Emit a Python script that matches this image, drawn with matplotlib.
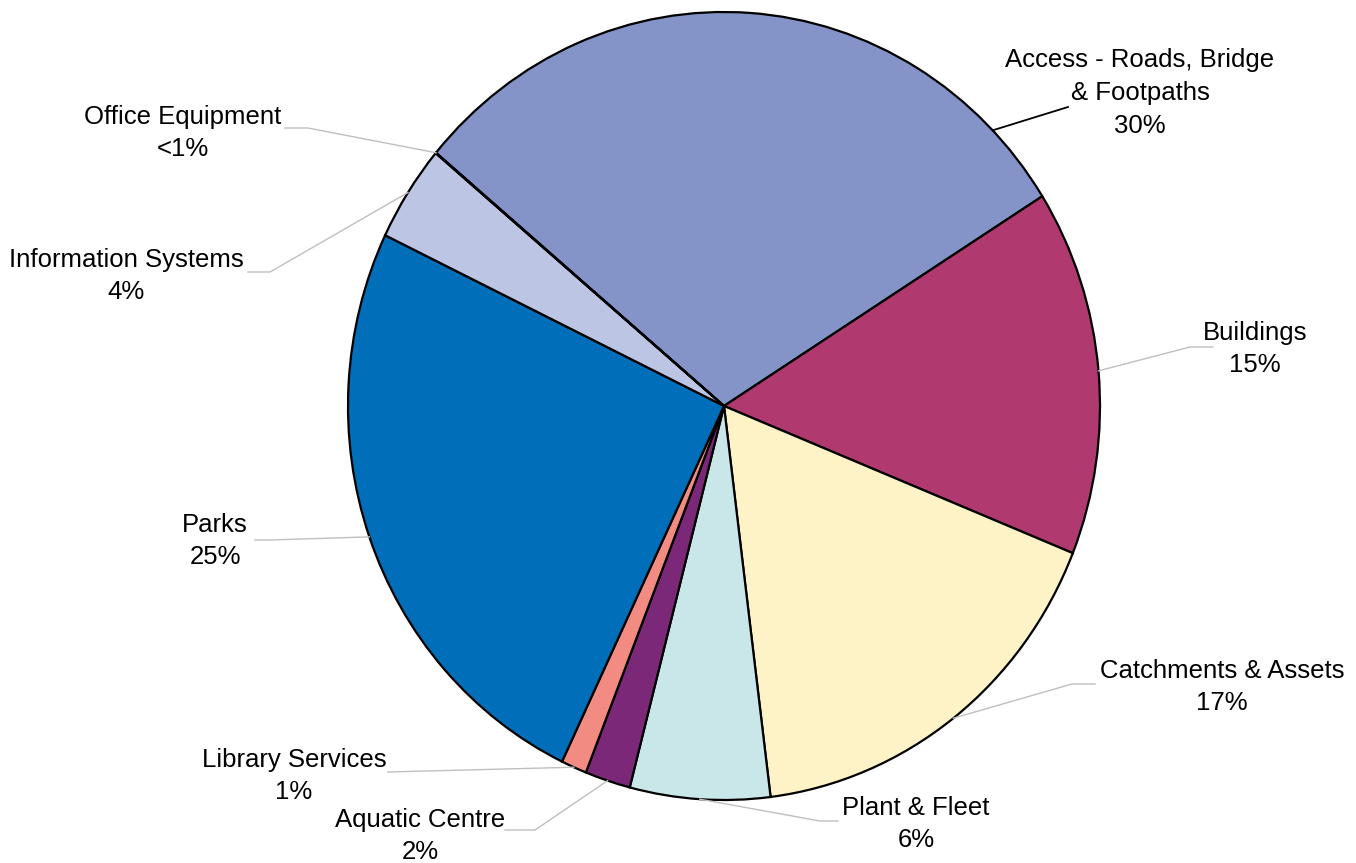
#!/usr/bin/env python3
"""
Capital works share by asset class - pie chart with leader labels
"""

import numpy as np
import matplotlib.pyplot as plt

plt.rcParams['font.family'] = ['Liberation Sans', 'DejaVu Sans']

# data (clockwise from the Office Equipment / Access boundary)
categories = ['Access - Roads, Bridge\n& Footpaths', 'Buildings', 'Catchments & Assets',
              'Plant & Fleet', 'Aquatic Centre', 'Library Services', 'Parks',
              'Information Systems', 'Office Equipment']
values = [29.9, 15.0, 16.9, 6.0, 1.95, 1.1, 25.0, 3.95, 0.02]
pct_labels = ['30%', '15%', '17%', '6%', '2%', '1%', '25%', '4%', '<1%']
colors = ['#8494C8', '#B03A6F', '#FEF3C6', '#C9E7E9', '#7B2878', '#F28B82',
          '#006EB9', '#BCC5E4', '#9AA6D4']

# pixel layout of the reference picture
W, H = 1356, 863
CX, CY, RX, RY = 724, 406, 376, 394


def px(x, y):
    """pixel -> data coords (pie of radius 1 at origin)"""
    return (x - CX) / RX, (CY - y) / RY


fig = plt.figure(figsize=(W / 100, H / 100), dpi=100)
ax = fig.add_axes([0, 0, 1, 1])

wedges, _ = ax.pie(values, colors=colors, startangle=140, counterclock=False,
                   radius=1, center=(0, 0),
                   wedgeprops=dict(edgecolor='black', linewidth=1.6))
ax.set_aspect('auto')
x0, y0 = px(0, H)
x1, y1 = px(W, 0)
ax.set_xlim(x0, x1)
ax.set_ylim(y0, y1)
ax.axis('off')

# label centre, elbow and end of each leader line (pixels)
label_pos = [(1140, 93), (1255, 349), (1222, 687), (916, 824), (420, 836),
             (294, 776), (215, 541), (126, 276), (183, 133)]
leader_pts = [[(1068, 107)],
              [(1190, 347), (1213, 347)],
              [(1072, 684), (1095, 684)],
              [(820, 821), (838, 821)],
              [(535, 830), (505, 830)],
              [(388, 772)],
              [(270, 540), (255, 540)],
              [(270, 272), (248, 272)],
              [(308, 128), (285, 128)]]

for i, w in enumerate(wedges):
    if i == 0:
        ang = np.deg2rad(44.4)
    elif i == len(wedges) - 1:
        ang = np.deg2rad(w.theta1)
    else:
        ang = np.deg2rad((w.theta1 + w.theta2) / 2)
    sx, sy = np.cos(ang), np.sin(ang)
    xs = [sx] + [px(*p)[0] for p in leader_pts[i]]
    ys = [sy] + [px(*p)[1] for p in leader_pts[i]]
    lc = 'black' if i == 0 else '#BFBFBF'
    ax.plot(xs, ys, color=lc, linewidth=1.0 if i else 1.3, zorder=3, clip_on=False)

    tx, ty = px(*label_pos[i])
    ax.text(tx, ty, categories[i] + '\n' + pct_labels[i], ha='center', va='center',
            fontsize=18.5, linespacing=1.45, color='black')

plt.savefig('out.png', dpi=100)
